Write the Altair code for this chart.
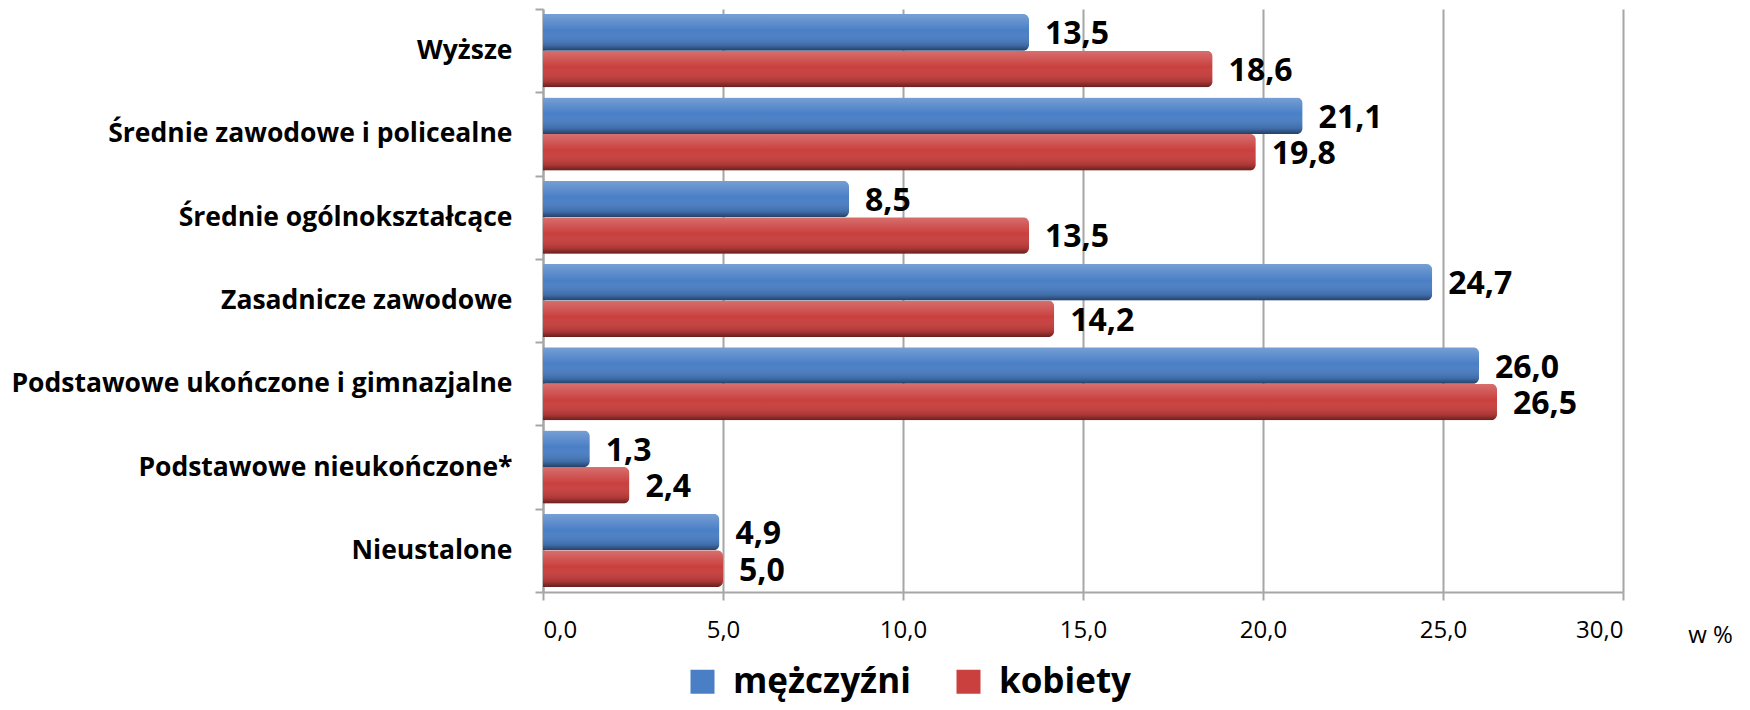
import altair as alt
import pandas as pd

categories = [
    "Wyższe",
    "Średnie zawodowe i policealne",
    "Średnie ogólnokształcące",
    "Zasadnicze zawodowe",
    "Podstawowe ukończone i gimnazjalne",
    "Podstawowe nieukończone*",
    "Nieustalone",
]
series = ["mężczyźni", "kobiety"]
men = [13.5, 21.1, 8.5, 24.7, 26.0, 1.3, 4.9]
women = [18.6, 19.8, 13.5, 14.2, 26.5, 2.4, 5.0]
x_ticks = [0, 5, 10, 15, 20, 25, 30]
colors = ["#4a7fc6", "#c9403e"]

rows = []
for c, m, w in zip(categories, men, women):
    rows.append({"cat": c, "series": series[0], "value": m})
    rows.append({"cat": c, "series": series[1], "value": w})
df = pd.DataFrame(rows)
df["label"] = df["value"].map(lambda v: f"{v:.1f}".replace(".", ","))

FONT = "Open Sans"
GRID = "#a6a6a6"

y_enc = alt.Y(
    "cat:N",
    sort=categories,
    scale=alt.Scale(paddingInner=0, paddingOuter=0),
    axis=alt.Axis(
        title=None,
        tickBand="extent",
        labelFont=FONT,
        labelFontSize=26.5,
        labelFontWeight="bold",
        labelColor="black",
        labelPadding=23,
        labelLimit=700,
        tickSize=8,
        tickColor=GRID,
        tickWidth=2,
        domainColor=GRID,
        domainWidth=2,
    ),
)
yoff = alt.YOffset(
    "series:N",
    sort=series,
    scale=alt.Scale(domain=series, paddingInner=0, paddingOuter=0.14),
)
x_enc = alt.X(
    "value:Q",
    scale=alt.Scale(domain=[0, 30], nice=False, zero=True),
    axis=alt.Axis(
        values=x_ticks,
        labelExpr="replace(format(datum.value, '.1f'), '.', ',')",
        labelFont=FONT,
        labelFontSize=24,
        labelColor="black",
        labelBaseline="middle",
        labelPadding=30,
        tickSize=8,
        tickColor=GRID,
        tickWidth=2,
        domainColor=GRID,
        domainWidth=2,
        grid=True,
        gridColor=GRID,
        gridWidth=2,
        title="w %",
        titleX=1167,
        titleY=43,
        titleAlign="center",
        titleBaseline="middle",
        titleFont=FONT,
        titleFontSize=24,
        titleFontWeight="normal",
        titleColor="black",
    ),
)

base = alt.Chart(df).encode(y=y_enc, yOffset=yoff, x=x_enc)

bars = base.mark_bar(cornerRadiusEnd=6).encode(
    color=alt.Color(
        "series:N",
        sort=series,
        scale=alt.Scale(domain=series, range=colors),
        legend=alt.Legend(
            title=None,
            orient="none",
            legendX=142,
            legendY=655,
            direction="horizontal",
            symbolType="square",
            symbolSize=576,
            symbolStrokeWidth=0,
            labelFont=FONT,
            labelFontSize=35,
            labelFontWeight="bold",
            labelColor="black",
            labelOffset=13,
            labelLimit=600,
            columnPadding=40,
        ),
    )
)

shade = base.mark_bar(
    cornerRadiusEnd=6,
    fill=alt.Gradient(
        gradient="linear",
        x1=0, y1=0, x2=0, y2=1,
        stops=[
            alt.GradientStop(offset=0, color="rgba(255,255,255,0.25)"),
            alt.GradientStop(offset=0.45, color="rgba(255,255,255,0)"),
            alt.GradientStop(offset=0.85, color="rgba(0,0,0,0.15)"),
            alt.GradientStop(offset=1, color="rgba(0,0,0,0.5)"),
        ],
    ),
)

text = base.mark_text(
    align="left",
    baseline="middle",
    dx=16,
    dy=2,
    font=FONT,
    fontSize=32,
    fontWeight="bold",
    color="black",
).encode(text="label:N")

chart = (
    alt.layer(bars, shade, text)
    .properties(
        width=1080,
        height=583,
        autosize="none",
        padding={"left": 535, "top": 1, "right": 119, "bottom": 110},
        background="white",
    )
    .configure_view(stroke=None)
)

chart.save("out.html", embed_options={"renderer": "svg", "actions": False})
